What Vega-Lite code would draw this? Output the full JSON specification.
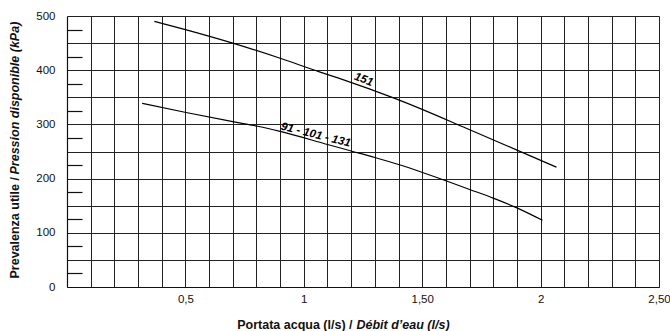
{
  "$schema": "https://vega.github.io/schema/vega-lite/v6.json",
  "width": 592,
  "height": 271,
  "autosize": "none",
  "padding": {"left": 67, "top": 16, "right": 11, "bottom": 44},
  "background": "white",
  "config": {
    "view": {"stroke": null},
    "font": "Liberation Sans",
    "axis": {"labelFont": "Liberation Sans", "titleFont": "Liberation Sans", "labelColor": "#111", "titleColor": "#111"}
  },
  "layer": [
    {
      "data": {"values": [
        {"series": "151", "q": 0.369, "p": 490},
        {"series": "151", "q": 0.5, "p": 475},
        {"series": "151", "q": 0.7, "p": 450},
        {"series": "151", "q": 0.9, "p": 422},
        {"series": "151", "q": 1.066, "p": 397},
        {"series": "151", "q": 1.15, "p": 385},
        {"series": "151", "q": 1.39, "p": 347},
        {"series": "151", "q": 1.686, "p": 293},
        {"series": "151", "q": 1.898, "p": 253},
        {"series": "151", "q": 2.067, "p": 221},
        {"series": "91-101-131", "q": 0.317, "p": 339},
        {"series": "91-101-131", "q": 0.503, "p": 322},
        {"series": "91-101-131", "q": 0.7, "p": 305},
        {"series": "91-101-131", "q": 0.8, "p": 297},
        {"series": "91-101-131", "q": 0.9, "p": 287},
        {"series": "91-101-131", "q": 1.1, "p": 263},
        {"series": "91-101-131", "q": 1.2, "p": 251},
        {"series": "91-101-131", "q": 1.3, "p": 239},
        {"series": "91-101-131", "q": 1.4, "p": 226},
        {"series": "91-101-131", "q": 1.6, "p": 196},
        {"series": "91-101-131", "q": 1.7, "p": 180},
        {"series": "91-101-131", "q": 1.8, "p": 164},
        {"series": "91-101-131", "q": 1.9, "p": 146},
        {"series": "91-101-131", "q": 2.008, "p": 123}
      ]},
      "mark": {"type": "line", "color": "black", "strokeWidth": 1.2, "interpolate": "monotone"},
      "encoding": {
        "x": {
          "field": "q", "type": "quantitative",
          "scale": {"domain": [0, 2.5], "nice": false, "zero": false},
          "axis": {
            "orient": "bottom",
            "values": [0.1, 0.2, 0.3, 0.4, 0.5, 0.6, 0.7, 0.8, 0.9, 1, 1.1, 1.2, 1.3, 1.4, 1.5, 1.6, 1.7, 1.8, 1.9, 2, 2.1, 2.2, 2.3, 2.4, 2.5],
            "labelExpr": "abs(datum.value-0.5)<0.01 ? '0,5' : abs(datum.value-1)<0.01 ? '1' : abs(datum.value-1.5)<0.01 ? '1,50' : abs(datum.value-2)<0.01 ? '2' : abs(datum.value-2.5)<0.01 ? '2,50' : ''",
            "grid": true, "gridColor": "#222", "gridWidth": 1, "gridOpacity": 1,
            "ticks": false, "domain": true, "domainColor": "#111", "domainWidth": 1.2,
            "labelFontSize": 11.5, "labelPadding": 6, "labelFlush": false, "labelOverlap": false,
            "title": "Portata acqua (l/s) /", "titleFontSize": 12.5, "titleFontWeight": "bold",
            "titleX": 285, "titleY": 41, "titleAlign": "right", "titleBaseline": "alphabetic"
          }
        },
        "y": {
          "field": "p", "type": "quantitative",
          "scale": {"domain": [0, 500], "nice": false},
          "axis": {
            "orient": "left",
            "values": [0, 50, 100, 150, 200, 250, 300, 350, 400, 450, 500],
            "labelExpr": "datum.value % 100 == 0 ? datum.label : ''",
            "grid": true, "gridColor": "#222", "gridWidth": 1, "gridOpacity": 1,
            "ticks": false, "domain": true, "domainColor": "#111", "domainWidth": 1.2,
            "labelFontSize": 11.5, "labelPadding": 12, "labelOverlap": false,
            "title": "Prevalenza utile /", "titleFontSize": 12.5, "titleFontWeight": "bold",
            "titleAngle": -90, "titleX": -49, "titleY": 262, "titleAlign": "left", "titleBaseline": "alphabetic"
          }
        },
        "detail": {"field": "series"}
      }
    },
    {
      "data": {"values": [{"q": 1.252, "p": 382, "label": "151"}]},
      "mark": {"type": "text", "fontWeight": "bold", "fontStyle": "italic", "fontSize": 11.5, "angle": 21, "color": "black"},
      "encoding": {
        "x": {
          "field": "q", "type": "quantitative",
          "axis": {
            "orient": "bottom", "labels": false, "ticks": false, "domain": false, "grid": false,
            "title": "Débit d’eau (l/s)", "titleFontSize": 12.5, "titleFontWeight": "bold", "titleFontStyle": "italic",
            "titleX": 289, "titleY": 41, "titleAlign": "left", "titleBaseline": "alphabetic"
          }
        },
        "y": {
          "field": "p", "type": "quantitative",
          "axis": {
            "orient": "left",
            "values": [25, 75, 125, 175, 225, 275, 325, 375, 425, 475],
            "labels": false, "domain": false, "grid": false,
            "ticks": true, "tickSize": -15, "tickColor": "#111", "tickWidth": 1.2,
            "title": "Pression disponible (kPa)", "titleFontSize": 12.5, "titleFontWeight": "bold", "titleFontStyle": "italic",
            "titleAngle": -90, "titleX": -49, "titleY": 158, "titleAlign": "left", "titleBaseline": "alphabetic"
          }
        },
        "text": {"field": "label"}
      }
    },
    {
      "data": {"values": [{"q": 1.05, "p": 280, "label": "91 - 101 - 131"}]},
      "mark": {"type": "text", "fontWeight": "bold", "fontStyle": "italic", "fontSize": 11.5, "angle": 14, "color": "black"},
      "encoding": {
        "x": {"field": "q", "type": "quantitative", "axis": null},
        "y": {"field": "p", "type": "quantitative", "axis": null},
        "text": {"field": "label"}
      }
    }
  ],
  "resolve": {"axis": {"x": "independent", "y": "independent"}}
}
